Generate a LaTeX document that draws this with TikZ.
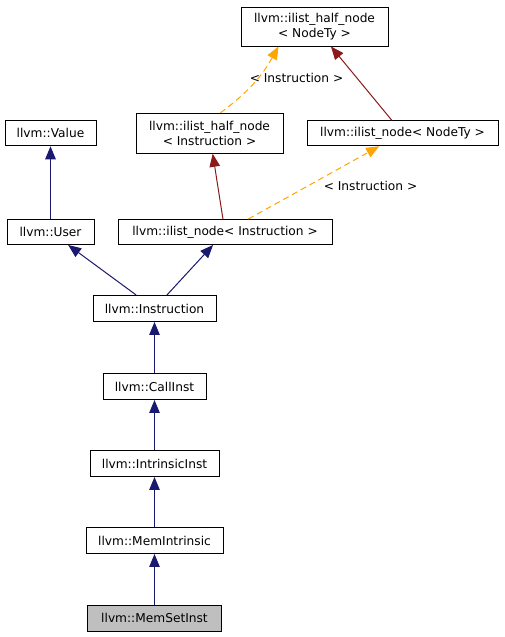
\documentclass[tikz,border=0pt]{standalone}
\usepackage{fontspec}
\setmainfont{DejaVu Sans}
\usetikzlibrary{arrows.meta}
\definecolor{navy}{HTML}{191970}
\definecolor{dred}{HTML}{8B1A1A}
\definecolor{orng}{HTML}{FFA500}
\definecolor{selgray}{HTML}{BFBFBF}
\begin{document}
\begin{tikzpicture}[x=1pt,y=-1pt,
  cls/.style={draw=black, line width=0.95pt, inner sep=0pt, align=center,
    font=\fontsize{12.2}{15}\selectfont},
  lbl/.style={inner sep=0pt, font=\fontsize{12.2}{15}\selectfont},
  tip/.style={-{Triangle[length=13pt,width=10.5pt]}},
  pub/.style={draw=navy, line width=1pt, tip},
  priv/.style={draw=dred, line width=1pt, tip},
  tmpl/.style={draw=orng, line width=1pt, dash pattern=on 6pt off 4pt, tip}]
\useasboundingbox (0,0) rectangle (504,637);
\fill[white] (0,0) rectangle (504,637);

\node[cls, minimum width=147pt, minimum height=39pt] (hNode) at (314.5,26.5) {llvm::ilist\_half\_node\\< NodeTy >};
\node[cls, minimum width=191pt, minimum height=25pt] (nNode) at (402.5,133.3) {llvm::ilist\_node< NodeTy >};
\node[cls, minimum width=147pt, minimum height=40pt] (hInst) at (209.5,133.3) {llvm::ilist\_half\_node\\< Instruction >};
\node[cls, minimum width=91pt, minimum height=25pt] (value) at (50.5,133.3) {llvm::Value};
\node[cls, minimum width=87pt, minimum height=25pt] (user) at (50.5,232) {llvm::User};
\node[cls, minimum width=214pt, minimum height=25pt] (nInst) at (225,232) {llvm::ilist\_node< Instruction >};
\node[cls, minimum width=123pt, minimum height=26pt] (instr) at (154.5,308.5) {llvm::Instruction};
\node[cls, minimum width=103pt, minimum height=26pt] (call) at (154.5,386.5) {llvm::CallInst};
\node[cls, minimum width=129pt, minimum height=26pt] (intr) at (154.5,463.5) {llvm::IntrinsicInst};
\node[cls, minimum width=137pt, minimum height=26pt] (memi) at (154.5,540.5) {llvm::MemIntrinsic};
\node[cls, fill=selgray, minimum width=134pt, minimum height=26pt] (memset) at (154.5,618) {llvm::MemSetInst};

\draw[pub] (user) -- (value);
\draw[pub] (instr) -- (user);
\draw[pub] (instr) -- (nInst);
\draw[pub] (call) -- (instr);
\draw[pub] (intr) -- (call);
\draw[pub] (memi) -- (intr);
\draw[pub] (memset) -- (memi);
\draw[priv] (nInst) -- (hInst);
\draw[priv] (nNode) -- (hNode);
\draw[tmpl] ([xshift=11pt]hInst.north) to[bend right=12] ([xshift=-36pt]hNode.south);
\draw[tmpl] (nInst) -- (nNode);
\node[lbl] (l1) at (296.5,78) {< Instruction >};
\node[lbl] (l2) at (370.5,186) {< Instruction >};
\end{tikzpicture}
\end{document}
